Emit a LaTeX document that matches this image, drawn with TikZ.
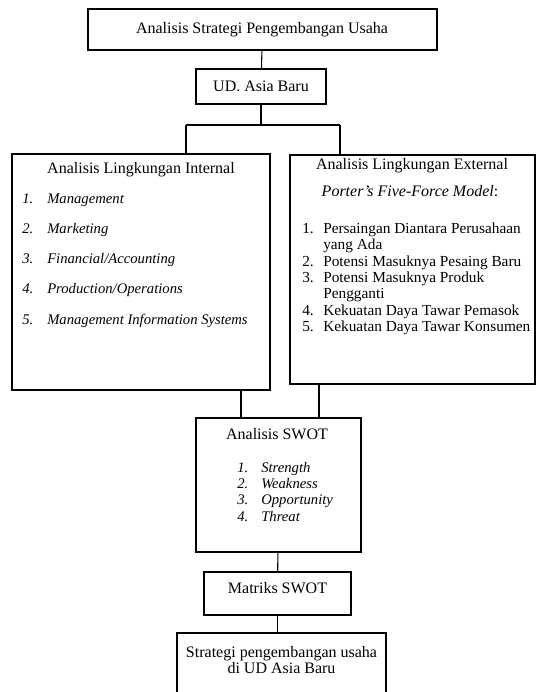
\documentclass[tikz,border=0pt]{standalone}
\usepackage{fontspec}
\setmainfont{Liberation Serif}
\usetikzlibrary{fit}

\tikzset{
  kotak/.style={draw, inner sep=0pt, line width=0.8pt},
  teks/.style={inner sep=0.75pt, font=\fontsize{12}{14}\selectfont},
  butir/.style={inner sep=0.75pt, anchor=base west, font=\fontsize{11}{13}\selectfont},
  butirext/.style={butir, font=\fontsize{11.5}{13}\selectfont},
  garis/.style={line width=0.8pt}
}

\begin{document}
\begin{tikzpicture}[x=0.75pt,y=0.75pt,yscale=-1,xscale=1]
\useasboundingbox (0,0) rectangle (537,692);
\clip (0,0) rectangle (537,692);

%Shape: Rectangle [judul]
\node [kotak, fit={(88,9) (437,50)}] (judul) {};
%Shape: Rectangle [ud]
\node [kotak, fit={(196,69) (326,104)}] (ud) {};
%Shape: Rectangle [internal]
\node [kotak, fit={(12,154) (270,390)}] (intl) {};
%Shape: Rectangle [external]
\node [kotak, fit={(290,155) (535,384)}] (extl) {};
%Shape: Rectangle [swot]
\node [kotak, fit={(196,418) (361,552)}] (swot) {};
%Shape: Rectangle [matriks]
\node [kotak, fit={(204,572) (351,615)}] (matriks) {};
%Shape: Rectangle [hasil]
\node [kotak, fit={(177,633) (386,710)}] (hasil) {};

% Connectors
\coordinate (cabang) at (261,125);
\coordinate (kiri) at (186,125);
\coordinate (kanan) at (340,125);
\coordinate (ki) at (241,0);
\coordinate (ka) at (319,0);
\draw [garis] (judul) -- (ud);
\draw [garis] (ud) -- (cabang);
\draw [garis] (kiri) -- (kanan);
\draw [garis] (kiri) -- (kiri |- intl.north);
\draw [garis] (kanan) -- (kanan |- extl.north);
\draw [garis] (ki |- intl.south) -- (ki |- swot.north);
\draw [garis] (ka |- extl.south) -- (ka |- swot.north);
\draw [garis] (swot) -- (matriks);
\draw [garis] (matriks.south) -- (matriks.south |- hasil.north);

% Text Node
\draw (262,29.5) node [teks] (tjudul) {Analisis Strategi Pengembangan Usaha};
% Text Node
\draw (261,86.5) node [teks] (tud) {UD. Asia Baru};

% Text Node
\draw (141,170) node [teks] (tintl) {Analisis Lingkungan Internal};
% Text Node
\draw (21,203) node [butir] (i1) {\textit{1.}};
\draw (46,203) node [butir] {\textit{Management}};
% Text Node
\draw (21,233) node [butir] (i2) {\textit{2.}};
\draw (46,233) node [butir] {\textit{Marketing}};
% Text Node
\draw (21,263) node [butir] (i3) {\textit{3.}};
\draw (46,263) node [butir] {\textit{Financial/Accounting}};
% Text Node
\draw (21,293) node [butir] (i4) {\textit{4.}};
\draw (46,293) node [butir] {\textit{Production/Operations}};
% Text Node
\draw (21,324) node [butir] (i5) {\textit{5.}};
\draw (46,324) node [butir] {\textit{Management Information Systems}};

% Text Node
\draw (412,166) node [teks] (textl) {Analisis Lingkungan External};
% Text Node
\draw (410,191) node [teks] (tporter) {\textit{Porter's Five-Force Model}:};
% Text Node
\draw (301,233) node [butirext] (e1) {1.};
\draw (322,233) node [butirext] {Persaingan Diantara Perusahaan};
\draw (322,249) node [butirext] {yang Ada};
% Text Node
\draw (301,266) node [butirext] (e2) {2.};
\draw (322,266) node [butirext] {Potensi Masuknya Pesaing Baru};
% Text Node
\draw (301,282) node [butirext] (e3) {3.};
\draw (322,282) node [butirext] {Potensi Masuknya Produk};
\draw (322,298) node [butirext] {Pengganti};
% Text Node
\draw (301,315) node [butirext] (e4) {4.};
\draw (322,315) node [butirext] {Kekuatan Daya Tawar Pemasok};
% Text Node
\draw (301,331) node [butirext] (e5) {5.};
\draw (322,331) node [butirext] {Kekuatan Daya Tawar Konsumen};

% Text Node
\draw (277,434) node [teks] (tswot) {Analisis SWOT};
% Text Node
\draw (236,472) node [butir] (s1) {\textit{1.}};
\draw (260,472) node [butir] {\textit{Strength}};
\draw (236,488) node [butir] (s2) {\textit{2.}};
\draw (260,488) node [butir] {\textit{Weakness}};
\draw (236,504) node [butir] (s3) {\textit{3.}};
\draw (260,504) node [butir] {\textit{Opportunity}};
\draw (236,521) node [butir] (s4) {\textit{4.}};
\draw (260,521) node [butir] {\textit{Threat}};

% Text Node
\draw (277.5,588) node [teks] (tmatriks) {Matriks SWOT};
% Text Node
\draw (281.5,660) node [teks, align=center, font=\fontsize{12}{12.5}\selectfont] (thasil) {Strategi pengembangan usaha\\di UD Asia Baru};

\end{tikzpicture}
\end{document}
